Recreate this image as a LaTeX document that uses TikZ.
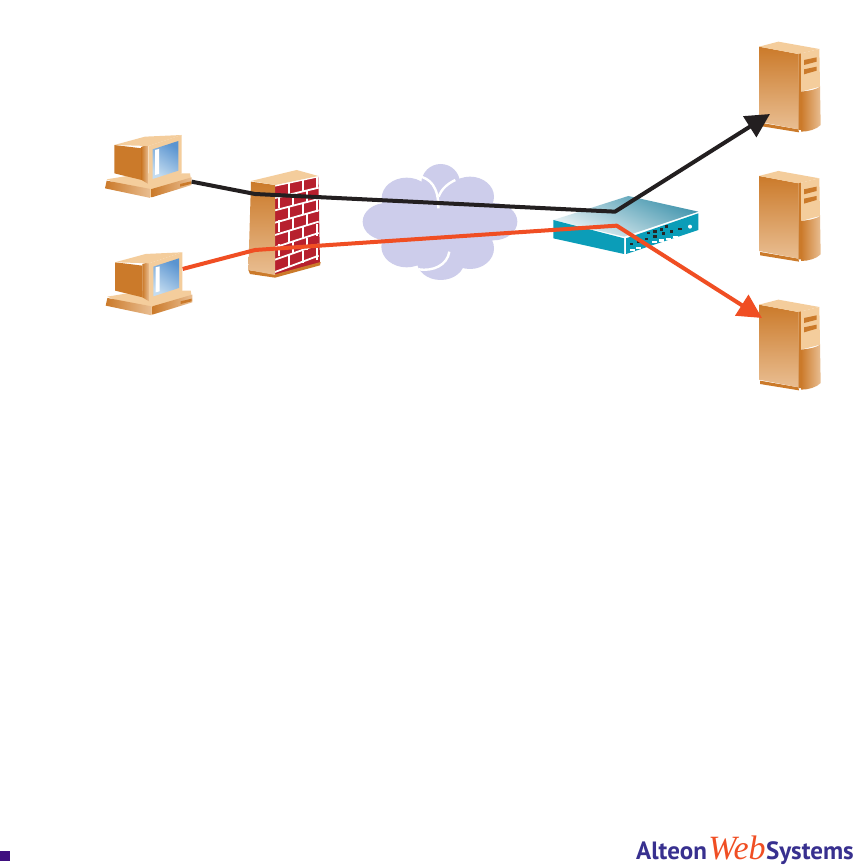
\documentclass[tikz,border=0pt]{standalone}
\usepackage{xcolor}
\usepackage{fontspec}
\setsansfont{PT Sans}
\newfontfamily\webfont{Liberation Serif}
\usepackage{tikz}
\usetikzlibrary{positioning, arrows.meta, calc, shadings}
\definecolor{peachlight}{HTML}{F4CD9C}
\definecolor{peachmid}{HTML}{E9BE92}
\definecolor{orangedark}{HTML}{CB7A2A}
\definecolor{brickred}{HTML}{B7202E}
\definecolor{cloudlilac}{HTML}{CDCDEB}
\definecolor{switchteal}{HTML}{0B9DB8}
\definecolor{switchtop}{HTML}{3F93AC}
\definecolor{linered}{HTML}{F04E23}
\definecolor{lineblack}{HTML}{231F20}
\definecolor{logoblue}{HTML}{38308F}
\definecolor{logosquare}{HTML}{3F0F7F}
\definecolor{screendark}{HTML}{5A94D0}
\definecolor{screenlight}{HTML}{C4DCF0}
\tikzset{
  flowline/.style={line width=4pt, line join=round, -{Triangle[length=24pt, width=24pt]}},
  logotext/.style={inner sep=0pt, text=logoblue, font=\sffamily\bfseries\fontsize{25}{25}\selectfont},
  computer/.pic={
    \fill[peachlight] (50,178) -- (160,160) -- (300,160) -- (305,190) -- (182,232) -- cycle;
    \shade[left color=orangedark, right color=peachmid] (45,205) -- (50,182) -- (182,207) -- (182,234) -- cycle;
    \shade[left color=orangedark, right color=peachmid] (185,207) -- (305,172) -- (305,195) -- (185,232) -- cycle;
    \fill[orangedark] (270,192) -- (303,184) -- (303,192) -- (270,200) -- cycle;
    \fill[orangedark] (73,75) -- (155,85) -- (155,180) -- (73,160) -- cycle;
    \shade[left color=orangedark, right color=peachmid] (155,80) -- (175,75) -- (175,192) -- (155,180) -- cycle;
    \fill[peachlight] (73,75) -- (165,50) -- (275,45) -- (175,78) -- cycle;
    \fill[peachlight] (175,78) -- (275,45) -- (275,160) -- (175,192) -- cycle;
    \shade[top color=screendark, bottom color=screenlight, shading angle=-35]
      (188,88) -- (265,63) -- (265,152) -- (188,177) -- cycle;
    \fill[white] (195,90) -- (207,87) -- (207,162) -- (195,165) -- cycle;
    \coordinate (-port) at (305,185);
    \coordinate (-screen) at (276,95);
  },
  firewall/.pic={
    \fill[brickred] (555,195) -- (685,168) -- (690,430) -- (555,465) -- cycle;
    \foreach \row in {0,...,7}
      \draw[white, line width=1.8pt] ($(555,197)+(0,37*\row)$) -- ($(686,169)+(0,34*\row)$);
    \foreach \row/\shift in {0/30,1/0,2/30,3/0,4/30,5/0,6/30}
      \foreach \col in {0,1,2}
        \draw[white, line width=1.8pt] ($(568,193)+(\col*42+\shift,36*\row-\col*9-\shift*0.2)$) -- ++(0,35);
    \fill[orangedark] (475,450) -- (555,463) -- (692,426) -- (690,436) -- (555,473) -- (480,462) -- cycle;
    \shade[top color=orangedark, bottom color=peachmid] (483,185) -- (555,195) -- (555,465) -- (475,450) -- cycle;
    \fill[peachlight] (483,183) -- (620,150) -- (685,168) -- (555,195) -- cycle;
    \coordinate (-front) at (495,222);
    \coordinate (-lower) at (495,390);
  },
  server/.pic={
    \fill[orangedark] (90,278) -- (205,298) -- (207,307) -- (90,288) -- cycle;
    \shade[top color=orangedark, bottom color=peachmid] (87,50) -- (205,72) -- (205,298) -- (87,275) -- cycle;
    \fill[peachlight] (87,50) -- (145,35) -- (268,57) -- (205,72) -- cycle;
    \fill[orangedark] (205,72) -- (213,70) -- (213,300) -- (205,300) -- cycle;
    \fill[peachlight] (213,70) -- (268,57) -- (270,170) -- (213,185) -- cycle;
    \fill[orangedark] (222,90) -- (260,82) -- (260,95) -- (222,105) -- cycle;
    \fill[orangedark] (222,118) -- (260,110) -- (260,122) -- (222,133) -- cycle;
    \shade[left color=orangedark, right color=peachmid] (213,185) .. controls (240,182) and (260,178) .. (270,170)
      -- (272,285) .. controls (260,298) and (235,305) .. (213,305) -- cycle;
    \coordinate (-upper) at (120,252);
    \coordinate (-lower) at (96,90);
  },
}

\begin{document}
\begin{tikzpicture}[x=1pt, y=-1pt]
    \useasboundingbox (0,0) rectangle (859,866);
    \fill[white] (0,0) rectangle (859,866);

    % cloud
    \begin{scope}[shift={(350,150)}, scale=1/3]
      \fill[cloudlilac] (272,100) circle[radius=58]
        (170,145) ellipse[x radius=75, y radius=62]
        (360,140) ellipse[x radius=72, y radius=60]
        (110,215) ellipse[x radius=72, y radius=56]
        (430,215) ellipse[x radius=72, y radius=56]
        (170,290) ellipse[x radius=76, y radius=62]
        (360,295) ellipse[x radius=72, y radius=62]
        (272,332) ellipse[x radius=72, y radius=58]
        (270,215) ellipse[x radius=180, y radius=100];
      \draw[white, line width=2.4pt] (205,78) .. controls (240,85) and (266,110) .. (265,175);
      \draw[white, line width=2.4pt] (316,90) .. controls (295,100) and (275,115) .. (266,140);
      \draw[white, line width=2.4pt] (298,305) .. controls (292,345) and (250,365) .. (205,358);
    \end{scope}

    % switch
    \begin{scope}[shift={(550,190)}, scale=1/3]
      \shade[top color=switchtop, bottom color=white!92!switchtop, shading angle=-25]
        (10,90) -- (235,18) -- (445,65) -- (222,140) -- cycle;
      \fill[switchteal] (10,90) -- (222,145) -- (222,192) -- (10,145) -- cycle;
      \fill[switchteal] (228,145) -- (445,70) -- (445,120) -- (228,192) -- cycle;
      \foreach \dotx/\doty in {240/158,262/150,285/143,310/135,335/127,360/120,385/113,290/125,310/120,330/115,345/106}
        \fill[black!85] (\dotx,\doty) rectangle ++(10,8);
      \foreach \dotx/\doty in {240/176,258/170,305/153,328/148,348/143,368/138}
        \fill[white] (\dotx,\doty) rectangle ++(15,7);
      \fill[white] (420,110) circle[radius=6];
      \coordinate (switchupper) at (195,65);
      \coordinate (switchlower) at (200,107);
    \end{scope}

    \pic[scale=1/3] (pcupper) at (90,120) {computer};
    \pic[scale=1/3] (pclower) at (90.7,237.3) {computer};
    \pic[scale=1/3] (wall) at (90,120) {firewall};
    \pic[scale=1/3] (serverupper) at (730,30) {server};
    \pic[scale=1/3] (servermiddle) at (730,159.3) {server};
    \pic[scale=1/3] (serverlower) at (730,288) {server};

    \draw[flowline, lineblack] (pcupper-port) -- (wall-front) -- (switchupper) -- (serverupper-upper);
    \draw[flowline, linered] (pclower-screen) -- (wall-lower) -- (switchlower) -- (serverlower-lower);

    % logo
    \fill[logosquare] (0,851) rectangle (10,861);
    \node[logotext, anchor=base west] (logoalteon) at (636,859) {Alteon};
    \node[inner sep=0pt, text=linered, font=\webfont\itshape\fontsize{34}{34}\selectfont, base right=1pt of logoalteon] (logoweb) {Web};
    \node[logotext, base right=0pt of logoweb] (logosystems) {Systems};
  \end{tikzpicture}
\end{document}
